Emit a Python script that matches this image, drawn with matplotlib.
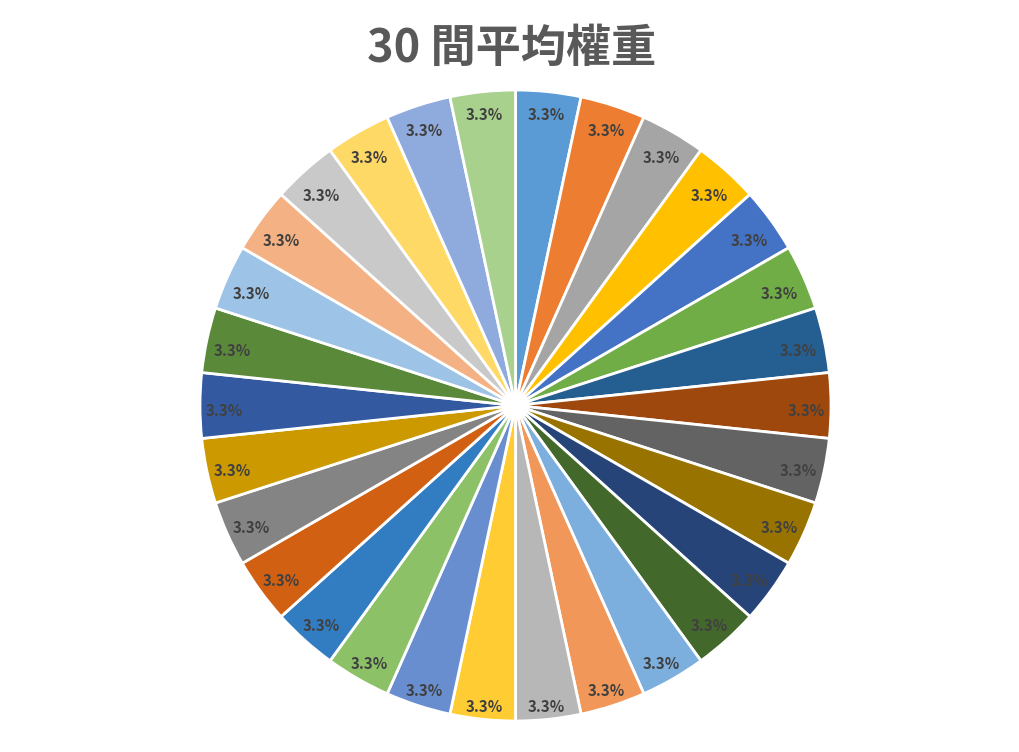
import matplotlib
matplotlib.use("Agg")
import matplotlib.pyplot as plt
import numpy as np

plt.rcParams['font.family'] = ['Noto Sans CJK TC', 'DejaVu Sans']

title = "30 間平均權重"
values = [1] * 30
colors = [
    "#5B9BD5", "#ED7D31", "#A5A5A5", "#FFC000", "#4472C4", "#70AD47",
    "#255E91", "#9E480E", "#636363", "#997300", "#264478", "#43682B",
    "#7CAFDD", "#F1975A", "#B7B7B7", "#FFCD33", "#698ED0", "#8CC168",
    "#327DC2", "#D26012", "#848484", "#CC9A00", "#335AA1", "#5A8A39",
    "#9DC3E6", "#F4B183", "#C9C9C9", "#FFD966", "#8FAADC", "#A9D18E",
]

W, H = 1019, 752
fig = plt.figure(figsize=(W / 100, H / 100), dpi=100)
cx, cy, r = 515.5, 405.5, 315.5
ax = fig.add_axes([(cx - r) / W, (H - cy - r) / H, 2 * r / W, 2 * r / H])

wedges, texts, autotexts = ax.pie(
    values, colors=colors, startangle=90, counterclock=False,
    autopct='%1.1f%%', pctdistance=0.92, radius=1,
    wedgeprops=dict(edgecolor='white', linewidth=2),
    textprops=dict(color='#404040', fontsize=10.8, fontweight='bold'),
)
ax.set_xlim(-1, 1)
ax.set_ylim(-1, 1)
ax.set_aspect('equal')
ax.axis('off')

# "inside end" label placement: keep the label box inside the rim
bw, bh, rin, dy = 38 / r, 20 / r, 310.2 / r, -5.5 / r
for w, t in zip(wedges, autotexts):
    th = np.deg2rad((w.theta1 + w.theta2) / 2)
    c, s = np.cos(th), np.sin(th)
    a = abs(c) * bw / 2 + abs(s) * bh / 2
    b = (bw / 2) ** 2 + (bh / 2) ** 2
    d = -a + np.sqrt(a * a - b + rin * rin)
    t.set_position((d * c, d * s + dy))

fig.text(512 / W, 1 - 49 / H, title, ha='center', va='center',
         fontsize=32.5, fontweight='bold', color='#595959')

fig.savefig('out.png', dpi=100, facecolor='white')
